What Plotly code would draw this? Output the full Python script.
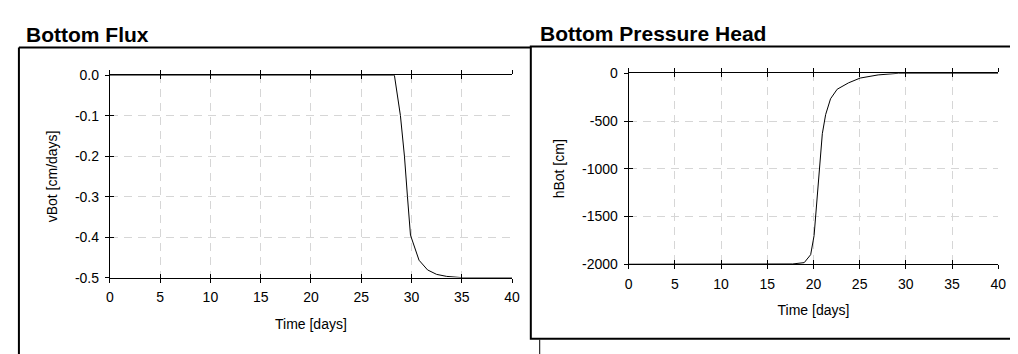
import plotly.graph_objects as go

W, H = 1018, 354
FONT = "Liberation Sans, Arial, sans-serif"

# Bottom flux
time_flux = [0, 28.3, 28.9, 29.3, 29.6, 29.9, 30.75, 31.6, 32.5, 33.5, 35, 40]
v_bot = [0, 0, -0.1, -0.2, -0.3, -0.395, -0.457, -0.481, -0.492, -0.497, -0.5, -0.5]

# Bottom pressure head
time_head = [0, 17.75, 19.0, 19.7, 20.07, 20.32, 20.6, 20.96, 21.32, 21.85, 22.57, 23.8, 25.06, 27.0, 29.2, 40]
h_bot = [-2000, -1997, -1983, -1900, -1700, -1400, -1000, -633, -433, -267, -167, -100, -50, -17, 0, 0]

x_ticks = [0, 5, 10, 15, 20, 25, 30, 35, 40]
flux_ticks = [0.0, -0.1, -0.2, -0.3, -0.4, -0.5]
flux_labels = ["0.0", "-0.1", "-0.2", "-0.3", "-0.4", "-0.5"]
head_ticks = [0, -500, -1000, -1500, -2000]
head_labels = ["0", "-500", "-1000", "-1500", "-2000"]


def px(x):
    return x / W


def py(y):
    return 1 - y / H


fig = go.Figure()
fig.add_trace(go.Scatter(x=time_flux, y=v_bot, mode="lines", line=dict(color="black", width=1),
                         xaxis="x", yaxis="y", showlegend=False))
fig.add_trace(go.Scatter(x=time_head, y=h_bot, mode="lines", line=dict(color="black", width=1),
                         xaxis="x2", yaxis="y2", showlegend=False))
# empty traces so the overlay tick axes get drawn
fig.add_trace(go.Scatter(x=[None], y=[None], xaxis="x3", yaxis="y3", showlegend=False, hoverinfo="skip"))
fig.add_trace(go.Scatter(x=[None], y=[None], xaxis="x4", yaxis="y4", showlegend=False, hoverinfo="skip"))

tickfont = dict(family=FONT, size=14, color="black")
grid = dict(showgrid=True, gridcolor="#d6d6d6", griddash="8px,6px", gridwidth=1, zeroline=False)

dom_x1 = [px(99), px(506)]
dom_y1 = [py(274), py(62)]
dom_x2 = [px(624), px(998)]
dom_y2 = [py(260), py(60)]

base_x = dict(range=[0, 40], tickvals=x_ticks, ticks="outside", ticklen=4, tickcolor="black",
              showline=True, linecolor="black", linewidth=1, mirror="ticks", tickfont=tickfont,
              ticklabelstandoff=3,
              title=dict(text="Time [days]", font=tickfont, standoff=14), **grid)
base_y = dict(ticks="outside", ticklen=4, tickcolor="black", showline=True, linecolor="black",
              linewidth=1, tickfont=tickfont, ticklabelstandoff=3, **grid)
over_x = dict(range=[0, 40], tickvals=x_ticks, ticks="inside", ticklen=4, tickcolor="black",
              showline=False, mirror="ticks", showticklabels=False, showgrid=False, zeroline=False)
over_y = dict(ticks="inside", ticklen=4, tickcolor="black", showline=False,
              showticklabels=False, showgrid=False, zeroline=False)

fig.update_layout(
    width=W, height=H,
    margin=dict(l=0, r=0, t=0, b=0),
    paper_bgcolor="white", plot_bgcolor="white",
    font=dict(family=FONT, color="black"),
    xaxis=dict(domain=dom_x1, anchor="y", **base_x),
    yaxis=dict(domain=dom_y1, anchor="x", range=[-0.5, 0], tickvals=flux_ticks, ticktext=flux_labels,
               title=dict(text="vBot [cm/days]", font=tickfont, standoff=14), **base_y),
    xaxis2=dict(domain=dom_x2, anchor="y2", **base_x),
    yaxis2=dict(domain=dom_y2, anchor="x2", range=[-2000, 0], tickvals=head_ticks, ticktext=head_labels,
                title=dict(text="hBot [cm]", font=tickfont, standoff=14), **base_y),
    xaxis3=dict(overlaying="x", anchor="y3", **over_x),
    yaxis3=dict(overlaying="y", anchor="x3", range=[-0.5, 0], tickvals=flux_ticks, **over_y),
    xaxis4=dict(overlaying="x2", anchor="y4", **over_x),
    yaxis4=dict(overlaying="y2", anchor="x4", range=[-2000, 0], tickvals=head_ticks, **over_y),
)

# panel frames
border = dict(color="black", width=2)
fig.add_shape(type="line", xref="paper", yref="paper", x0=px(7), x1=px(7), y0=py(33), y1=py(360), line=border)
fig.add_shape(type="line", xref="paper", yref="paper", x0=px(7), x1=px(525), y0=py(33), y1=py(33), line=border)
fig.add_shape(type="rect", xref="paper", yref="paper", x0=px(525), x1=px(1022), y0=py(338), y1=py(32),
              line=border, fillcolor="rgba(0,0,0,0)")
fig.add_shape(type="line", xref="paper", yref="paper", x0=px(534), x1=px(534), y0=py(339), y1=py(360),
              line=dict(color="black", width=1))

title_font = dict(family=FONT, size=21, color="black", weight="bold")
fig.add_annotation(text="<b>Bottom Flux</b>", xref="paper", yref="paper", x=px(12), y=py(5),
                   xanchor="left", yanchor="top", showarrow=False, font=title_font)
fig.add_annotation(text="<b>Bottom Pressure Head</b>", xref="paper", yref="paper", x=px(532), y=py(4),
                   xanchor="left", yanchor="top", showarrow=False, font=title_font)

fig.write_html("out.html")
